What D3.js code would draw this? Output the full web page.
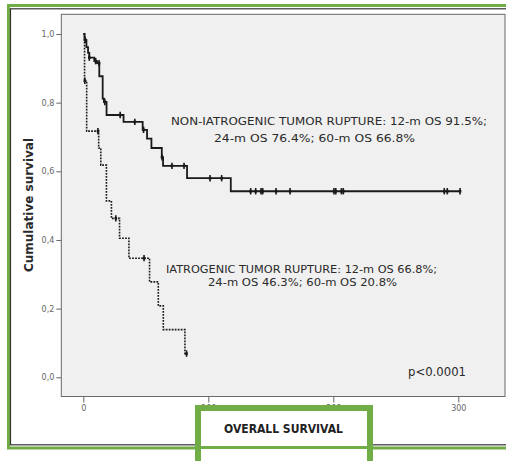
<!DOCTYPE html>
<html><head><meta charset="utf-8">
<script src="https://cdn.jsdelivr.net/npm/d3@7"></script>
<style>html,body{margin:0;padding:0;background:#fff;}svg{display:block;}</style>
</head><body>
<script>
// ---- data ----
const nonIatroTimes = [0, 1, 2.5, 3.8, 4.8, 8.8, 11, 12.8, 15.5, 16.5, 18.6, 32.2, 47.5, 51, 54.5, 62.8, 63.8, 83, 118, 301.5];
const nonIatroSurv  = [1.0, 0.983, 0.962, 0.945, 0.931, 0.921, 0.915, 0.877, 0.812, 0.802, 0.764, 0.744, 0.721, 0.695, 0.668, 0.641, 0.616, 0.580, 0.542, 0.542];
const nonIatroCensored = [1.5, 4.8, 9.9, 12.6, 17.2, 29.5, 41.2, 48.2, 63.0, 70.9, 80.6, 101.4, 110.7, 133.9, 137.9, 142.2, 143.5, 154.2, 165.4, 200.5, 202, 206.5, 208, 288.8, 291.2, 301.4];

const iatroTimes = [0, 1, 2.7, 12.3, 14, 18.5, 22.5, 29, 36.5, 53, 60, 64, 81.3, 82.6];
const iatroSurv  = [1.0, 0.864, 0.717, 0.668, 0.618, 0.514, 0.463, 0.405, 0.347, 0.278, 0.208, 0.139, 0.069, 0.069];
const iatroCensored = [1.2, 11.7, 26, 48.6, 82.6];

const xTicks = [0, 100, 200, 300];
const yTicks = [0, 0.2, 0.4, 0.6, 0.8, 1.0];

const nonIatroLabel = ["NON-IATROGENIC TUMOR RUPTURE: 12-m OS 91.5%;", "24-m OS 76.4%; 60-m OS 66.8%"];
const iatroLabel = ["IATROGENIC TUMOR RUPTURE: 12-m OS 66.8%;", "24-m OS 46.3%; 60-m OS 20.8%"];
const pLabel = "p<0.0001";
const xTitle = "OVERALL SURVIVAL";
const yTitle = "Cumulative survival";

// ---- drawing ----
const W = 506, H = 461;
const GREEN = "#70ad47";
const svg = d3.select("body").append("svg").attr("width", W).attr("height", H);
svg.append("rect").attr("width", W).attr("height", H).attr("fill", "#fff");

const x = d3.scaleLinear().domain([0, 300]).range([83.3, 458.3]);
const y = d3.scaleLinear().domain([0, 1]).range([377.3, 34]);

// outer frames
svg.append("rect").attr("x", 8.5).attr("y", 5.5).attr("width", 520).attr("height", 442.5)
  .attr("fill", "none").attr("stroke", GREEN).attr("stroke-width", 3);
svg.append("rect").attr("x", 10.5).attr("y", 8.8).attr("width", 520).attr("height", 436)
  .attr("fill", "none").attr("stroke", "#333").attr("stroke-width", 1.2);

// plot area
const pl = 61.3, pt = 14.3, pr = 505, pb = 396.5;
svg.append("rect").attr("x", pl).attr("y", pt).attr("width", pr - pl).attr("height", pb - pt)
  .attr("fill", "#f0f0f0").attr("stroke", "#6a6a6a").attr("stroke-width", 1);

// axes
const yAxis = d3.axisLeft(y).tickValues(yTicks).tickSize(5).tickPadding(2)
  .tickFormat(d => d3.format(".1f")(d).replace(".", ","));
const gy = svg.append("g").attr("transform", `translate(${pl},0)`).call(yAxis);
gy.select(".domain").remove();
gy.selectAll("line").attr("stroke", "#666");
gy.selectAll("text").attr("fill", "#666").attr("font-family", "DejaVu Sans, sans-serif").attr("font-size", 8);

const xAxis = d3.axisBottom(x).tickValues(xTicks).tickSize(6).tickPadding(3).tickFormat(d3.format("d"));
const gx = svg.append("g").attr("transform", `translate(0,${pb})`).call(xAxis);
gx.select(".domain").remove();
gx.selectAll("line").attr("stroke", "#666");
gx.selectAll("text").attr("fill", "#666").attr("font-family", "DejaVu Sans, sans-serif").attr("font-size", 8);

// curves
function survAt(times, surv, t) {
  let s = surv[0];
  for (let i = 0; i < times.length; i++) if (times[i] <= t) s = surv[i];
  return s;
}
const line = d3.line().x(d => x(d[0])).y(d => y(d[1])).curve(d3.curveStepAfter);

function drawCurve(times, surv, cens, dashed) {
  const pts = times.map((t, i) => [t, surv[i]]);
  svg.append("path").attr("d", line(pts)).attr("fill", "none")
    .attr("stroke", "#1a1a1a").attr("stroke-width", dashed ? 1.6 : 1.8)
    .attr("stroke-dasharray", dashed ? "1.8,1.2" : null);
  const g = svg.append("g");
  cens.forEach(t => {
    const s = survAt(times, surv, t);
    g.append("line").attr("x1", x(t)).attr("x2", x(t)).attr("y1", y(s) - 3.2).attr("y2", y(s) + 3.2)
      .attr("stroke", "#1a1a1a").attr("stroke-width", 1.6);
    g.append("rect").attr("x", x(t) - 1.3).attr("y", y(s) - 1.3).attr("width", 2.6).attr("height", 2.6)
      .attr("fill", "#1a1a1a");
  });
}
drawCurve(iatroTimes, iatroSurv, iatroCensored, true);
drawCurve(nonIatroTimes, nonIatroSurv, nonIatroCensored, false);

// annotations
function txt(s, cx, by, len, size, weight, color) {
  return svg.append("text").attr("x", cx).attr("y", by).attr("text-anchor", "middle")
    .attr("font-family", "DejaVu Sans, sans-serif").attr("font-size", size)
    .attr("font-weight", weight || "normal").attr("fill", color || "#2a2a2a")
    .attr("textLength", len).attr("lengthAdjust", "spacingAndGlyphs").text(s);
}
txt(nonIatroLabel[0], 329, 124.7, 316, 11);
txt(nonIatroLabel[1], 314.5, 141.7, 201, 11);
txt(iatroLabel[0], 301.5, 272.5, 271, 11);
txt(iatroLabel[1], 302.5, 286.2, 189, 11);
txt(pLabel, 437, 376, 58, 12);

// y title
svg.append("text").attr("transform", "translate(33,205) rotate(-90)").attr("text-anchor", "middle")
  .attr("font-family", "DejaVu Sans, sans-serif").attr("font-size", 12).attr("font-weight", "bold")
  .attr("fill", "#2a2a2a").attr("textLength", 134).attr("lengthAdjust", "spacingAndGlyphs").text(yTitle);

// green highlight box around x title
svg.append("rect").attr("x", 198).attr("y", 408).attr("width", 172).attr("height", 70)
  .attr("fill", "#fff").attr("stroke", GREEN).attr("stroke-width", 6);
svg.append("line").attr("x1", 198).attr("x2", 370).attr("y1", 447.5).attr("y2", 447.5)
  .attr("stroke", GREEN).attr("stroke-width", 3);
txt(xTitle, 283.5, 432.5, 119, 13, "bold", "#222");
</script>
</body></html>
